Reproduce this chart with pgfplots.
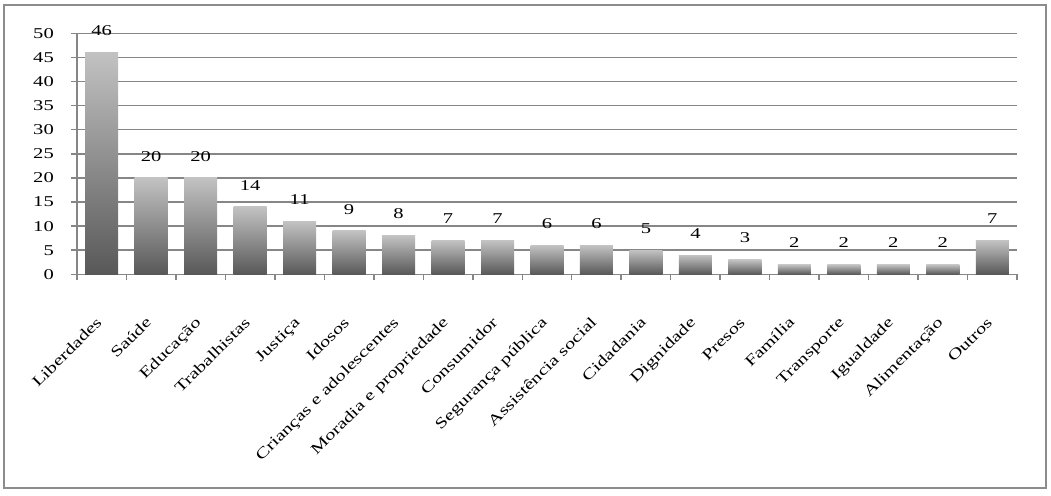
\documentclass[border=0pt]{standalone}
\usepackage{pgfplots}
\pgfplotsset{compat=1.18}
\usepackage{fontspec}
\setmainfont[FakeStretch=1.37]{Liberation Serif}
\definecolor{gridgray}{RGB}{134,134,134}
\definecolor{framegray}{RGB}{140,140,140}
\definecolor{bartop}{RGB}{194,194,194}
\definecolor{barbot}{RGB}{88,88,88}
\pgfplotsset{
    gbar/.style={draw=none, top color=bartop, bottom color=barbot, bar shift=0pt},
}
\begin{document}
\begin{tikzpicture}[x=1pt,y=1pt]
\path[use as bounding box] (0,0) rectangle (1051,495);
\draw[framegray, line width=2pt] (4,7) rectangle (1046,490);
\begin{axis}[
    at={(77pt,220.7pt)}, anchor=south west,
    scale only axis, width=940pt, height=241pt,
    ybar, bar width=33pt,
    xmin=-0.5, xmax=18.5, ymin=0, ymax=50,
    axis x line=bottom, axis y line=left,
    axis line style={-, gridgray, line width=1.5pt},
    ytick={0,5,...,50},
    xtick={-0.5,0.5,...,18.5},
    x tick label as interval,
    xticklabels={Liberdades,Saúde,Educação,Trabalhistas,Justiça,Idosos,
        Crianças e adolescentes,Moradia e propriedade,Consumidor,
        Segurança pública,Assistência social,Cidadania,Dignidade,Presos,
        Família,Transporte,Igualdade,Alimentação,Outros},
    tick align=outside, major tick length=6pt,
    tick style={gridgray, line width=1.5pt},
    ymajorgrids, grid style={gridgray, line width=1.5pt},
    /pgf/number format/assume math mode=true,
    tick label style={font=\fontsize{15}{18}\selectfont},
    yticklabel style={anchor=east, inner sep=0pt, xshift=-17pt},
    xticklabel style={xshift=1pt, yshift=-43pt, anchor=base east, rotate=45, inner sep=0pt},
    nodes near coords,
    nodes near coords style={font=\fontsize{15}{18}\selectfont, anchor=south, inner sep=0pt, yshift=16.5pt},
    clip=false,
]
\addplot[gbar] coordinates {(0,46)};
\addplot[gbar] coordinates {(1,20)};
\addplot[gbar] coordinates {(2,20)};
\addplot[gbar] coordinates {(3,14)};
\addplot[gbar] coordinates {(4,11)};
\addplot[gbar] coordinates {(5,9)};
\addplot[gbar] coordinates {(6,8)};
\addplot[gbar] coordinates {(7,7)};
\addplot[gbar] coordinates {(8,7)};
\addplot[gbar] coordinates {(9,6)};
\addplot[gbar] coordinates {(10,6)};
\addplot[gbar] coordinates {(11,5)};
\addplot[gbar] coordinates {(12,4)};
\addplot[gbar] coordinates {(13,3)};
\addplot[gbar] coordinates {(14,2)};
\addplot[gbar] coordinates {(15,2)};
\addplot[gbar] coordinates {(16,2)};
\addplot[gbar] coordinates {(17,2)};
\addplot[gbar] coordinates {(18,7)};
\end{axis}
\end{tikzpicture}
\end{document}
